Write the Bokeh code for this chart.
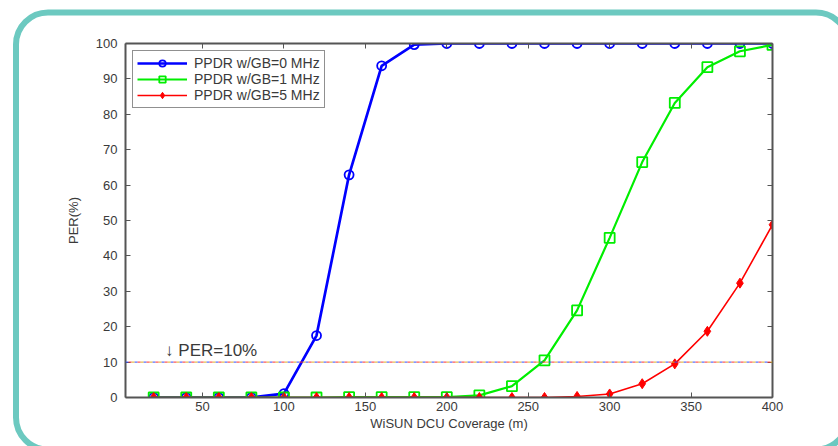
from bokeh.plotting import figure
from bokeh.models import (Range1d, LinearAxis, FixedTicker, Span, Label, Legend,
                          LegendItem)
from bokeh.embed import file_html
from bokeh.resources import INLINE

# ---- data ----
coverage_m = [20, 40, 60, 80, 100, 120, 140, 160, 180, 200,
              220, 240, 260, 280, 300, 320, 340, 360, 380, 400]
per_gb0 = [0, 0, 0, 0, 1.1, 17.5, 62.9, 93.7, 99.7, 100,
           100, 100, 100, 100, 100, 100, 100, 100, 100, 100]
per_gb1 = [0, 0, 0, 0, 0, 0, 0.1, 0.1, 0.1, 0.1,
           0.6, 3.2, 10.5, 24.6, 45.1, 66.5, 83.2, 93.3, 97.8, 99.6]
per_gb5 = [0, 0, 0, 0, 0, 0, 0, 0, 0, 0,
           0, 0, 0, 0.3, 1.0, 3.9, 9.5, 18.7, 32.3, 48.8]
x_ticks = [50, 100, 150, 200, 250, 300, 350, 400]
y_ticks = [0, 10, 20, 30, 40, 50, 60, 70, 80, 90, 100]
threshold = 10
labels = ["PPDR w/GB=0 MHz", "PPDR w/GB=1 MHz", "PPDR w/GB=5 MHz"]

FONT = "Liberation Sans"
TXT = "#3a3a3a"
AX = "#555555"

p = figure(width=838, height=446, output_backend="svg", toolbar_location=None,
           x_range=Range1d(2.7, 400), y_range=Range1d(0, 100),
           min_border_left=125, min_border_right=66,
           min_border_top=43, min_border_bottom=49)
p.grid.visible = False
p.outline_line_color = None
p.background_fill_color = "white"
p.border_fill_color = None

# decorative teal rounded frame around the whole picture (page decoration)
frame_svg = ("data:image/svg+xml;utf8,%3Csvg xmlns='http://www.w3.org/2000/svg' "
             "width='838' height='446'%3E%3Crect x='16' y='12.5' width='832' height='437' "
             "rx='32' ry='32' fill='none' stroke='%236cc9c0' stroke-width='6'/%3E%3C/svg%3E")
p.styles = {"background-color": "white",
            "background-image": f'url("{frame_svg}")',
            "background-repeat": "no-repeat"}

# axes
for ax in (p.xaxis[0], p.yaxis[0]):
    ax.axis_line_color = AX
    ax.axis_line_width = 2
    ax.major_tick_in = 5
    ax.major_tick_out = 0
    ax.minor_tick_line_color = None
    ax.major_tick_line_color = AX
    ax.major_label_text_font = FONT
    ax.major_label_text_font_size = "13px"
    ax.major_label_text_color = TXT
    ax.axis_label_text_font = FONT
    ax.axis_label_text_font_size = "13px"
    ax.axis_label_text_font_style = "normal"
    ax.axis_label_text_color = TXT
p.xaxis[0].ticker = FixedTicker(ticks=x_ticks)
p.yaxis[0].ticker = FixedTicker(ticks=y_ticks)
p.xaxis[0].axis_label = "WiSUN DCU Coverage (m)"
p.yaxis[0].axis_label = "PER(%)"
p.xaxis[0].major_label_standoff = 4
p.yaxis[0].major_label_standoff = 8
p.xaxis[0].axis_label_standoff = 2
p.yaxis[0].axis_label_standoff = 12

top_ax = LinearAxis(ticker=FixedTicker(ticks=x_ticks),
                    major_label_overrides={t: "" for t in x_ticks},
                    axis_line_color=AX, axis_line_width=2, major_tick_in=5, major_tick_out=0,
                    minor_tick_line_color=None, major_tick_line_color=AX)
right_ax = LinearAxis(ticker=FixedTicker(ticks=y_ticks),
                      major_label_overrides={t: "" for t in y_ticks},
                      axis_line_color=AX, axis_line_width=2, major_tick_in=5, major_tick_out=0,
                      minor_tick_line_color=None, major_tick_line_color=AX)
p.add_layout(top_ax, "above")
p.add_layout(right_ax, "right")

# threshold line (multicolour dashed)
for col, off in (("#3050ff", 0), ("#e0b020", 3), ("#ff3030", 6)):
    p.add_layout(Span(location=threshold, dimension="width", line_color=col,
                      line_width=1, line_dash="3 6", line_dash_offset=off))
p.add_layout(Label(x=27, y=threshold, y_offset=2, text="\u2193 PER=10%",
                   text_font=FONT, text_font_size="17px", text_color=TXT))

# series
l0 = p.line(coverage_m, per_gb0, line_color="#0000ff", line_width=2.7)
m0 = p.scatter(coverage_m, per_gb0, marker="circle", size=9, fill_color=None,
               line_color="#0000ff", line_width=1.8)
l1 = p.line(coverage_m, per_gb1, line_color="#00ee00", line_width=2.2)
m1 = p.scatter(coverage_m, per_gb1, marker="square", size=10, fill_color=None,
               line_color="#00ee00", line_width=1.8)
l2 = p.line(coverage_m, per_gb5, line_color="#ff0000", line_width=1.6)
m2 = p.scatter(coverage_m, per_gb5, marker="diamond", size=10, fill_color="#ff0000",
               line_color="#ff0000", line_width=1)

legend = Legend(items=[LegendItem(label=labels[0], renderers=[l0, m0]),
                       LegendItem(label=labels[1], renderers=[l1, m1]),
                       LegendItem(label=labels[2], renderers=[l2, m2])],
                location="top_left", margin=7, padding=4, spacing=0,
                glyph_width=50, glyph_height=16, label_height=16, label_standoff=7,
                label_text_font=FONT, label_text_font_size="14px",
                label_text_color=TXT, border_line_color="#222222",
                border_line_width=1, background_fill_alpha=1)
p.add_layout(legend)

open("out.html", "w").write(file_html(p, INLINE))
